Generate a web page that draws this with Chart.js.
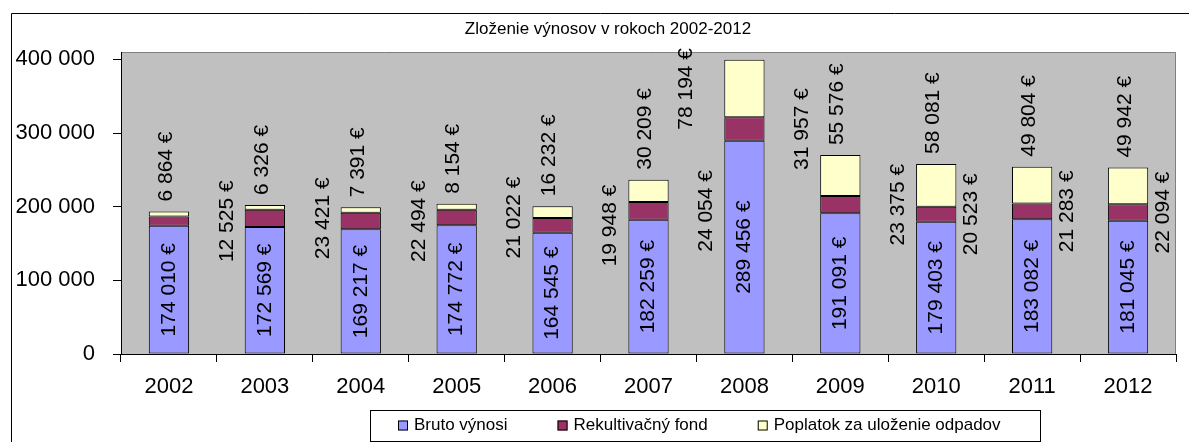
<!DOCTYPE html>
<html>
<head>
<meta charset="utf-8">
<script src="https://cdn.jsdelivr.net/npm/chart.js@4/dist/chart.umd.min.js"></script>
<style>
  html, body { margin: 0; padding: 0; background: #fff; }
  #wrap { width: 1189px; height: 442px; }
</style>
</head>
<body>
<div id="wrap"><canvas id="c" width="1189" height="442"></canvas></div>
<script>
const years = ['2002', '2003', '2004', '2005', '2006', '2007', '2008', '2009', '2010', '2011', '2012'];
const brutoVynosi = [174010, 172569, 169217, 174772, 164545, 182259, 289456, 191091, 179403, 183082, 181045];
const rekultivacnyFond = [12525, 23421, 22494, 21022, 19948, 24054, 31957, 23375, 20523, 21283, 22094];
const poplatok = [6864, 6326, 7391, 8154, 16232, 30209, 78194, 55576, 58081, 49804, 49942];
const seriesNames = ['Bruto výnosi', 'Rekultivačný fond', 'Poplatok za uloženie odpadov'];
const yTicks = [0, 100000, 200000, 300000, 400000];
const yMax = 410000;
const chartTitle = 'Zloženie výnosov v rokoch 2002-2012';

const colors = ['#9999FF', '#993366', '#FFFFCC'];
const FONT = '"Liberation Sans", Arial, sans-serif';

function fmt(v) {
  return String(v).replace(/\B(?=(\d{3})+(?!\d))/g, ' ');
}

// rotated text, reads bottom to top
function vText(ctx, text, x, y, align) {
  ctx.save();
  ctx.translate(x, y);
  ctx.rotate(-Math.PI / 2);
  ctx.textAlign = align;
  ctx.textBaseline = 'middle';
  ctx.fillText(text, 0, 0);
  ctx.restore();
}

const excelLook = {
  id: 'excelLook',
  beforeDraw(chart) {
    const ctx = chart.ctx;
    const a = chart.chartArea;
    ctx.save();
    ctx.fillStyle = '#fff';
    ctx.fillRect(0, 0, chart.width, chart.height);
    // outer frame (right and bottom fall outside the picture)
    ctx.strokeStyle = '#000';
    ctx.lineWidth = 1;
    ctx.beginPath();
    ctx.moveTo(11.5, chart.height);
    ctx.lineTo(11.5, 13.5);
    ctx.lineTo(chart.width, 13.5);
    ctx.stroke();
    // plot area
    ctx.fillStyle = '#C0C0C0';
    ctx.fillRect(a.left, a.top, a.right - a.left, a.bottom - a.top);
    ctx.strokeStyle = '#808080';
    ctx.beginPath();
    ctx.moveTo(a.left, a.top + 0.5);
    ctx.lineTo(a.right - 0.5, a.top + 0.5);
    ctx.lineTo(a.right - 0.5, a.bottom);
    ctx.stroke();
    // title
    ctx.fillStyle = '#000';
    ctx.font = '17px ' + FONT;
    ctx.textAlign = 'center';
    ctx.textBaseline = 'middle';
    ctx.fillText(chartTitle, 608, 29);
    ctx.restore();
  },
  afterDatasetsDraw(chart) {
    const ctx = chart.ctx;
    const a = chart.chartArea;
    ctx.save();
    ctx.fillStyle = '#000';
    ctx.font = '21px ' + FONT;
    const m0 = chart.getDatasetMeta(0).data;
    const m1 = chart.getDatasetMeta(1).data;
    const m2 = chart.getDatasetMeta(2).data;
    years.forEach((y, i) => {
      const b = m0[i];
      vText(ctx, fmt(brutoVynosi[i]) + ' €', b.x, (b.y + b.base) / 2, 'center');
      const r = m1[i];
      const shift = i >= 8 ? 35 : 58;
      vText(ctx, fmt(rekultivacnyFond[i]) + ' €', r.x + shift, (r.y + r.base) / 2, 'center');
      const p = m2[i];
      const txt = fmt(poplatok[i]) + ' €';
      const w = ctx.measureText(txt).width;
      if (p.y - 10 - w < a.top) {
        vText(ctx, txt, p.x - 58, a.top - 4, 'right');
      } else {
        vText(ctx, txt, p.x - 3, p.y - 10, 'left');
      }
    });
    ctx.restore();
  },
  afterDraw(chart) {
    const ctx = chart.ctx;
    ctx.save();
    const box = { left: 370, top: 410, right: 1040, bottom: 441 };
    ctx.strokeStyle = '#000';
    ctx.lineWidth = 1;
    ctx.strokeRect(box.left + 0.5, box.top + 0.5, box.right - box.left, box.bottom - box.top);
    ctx.font = '17px ' + FONT;
    ctx.textAlign = 'left';
    ctx.textBaseline = 'middle';
    const cy = (box.top + box.bottom) / 2;
    let x = 398;
    seriesNames.forEach((name, i) => {
      ctx.fillStyle = colors[i];
      ctx.fillRect(x, cy - 5, 10, 10);
      ctx.strokeRect(x + 0.5, cy - 4.5, 9, 9);
      ctx.fillStyle = '#000';
      ctx.fillText(name, x + 16, cy);
      x += 16 + ctx.measureText(name).width + 50;
    });
    ctx.restore();
  }
};

const datasets = [brutoVynosi, rekultivacnyFond, poplatok].map((d, i) => ({
  label: seriesNames[i],
  data: d,
  backgroundColor: colors[i],
  borderColor: '#000',
  borderWidth: 1,
  borderSkipped: false,
  barPercentage: 0.42,
  categoryPercentage: 1
}));

const chart = new Chart(document.getElementById('c'), {
  type: 'bar',
  data: { labels: years, datasets: datasets },
  options: {
    responsive: false,
    animation: false,
    layout: { padding: { top: 52, left: 12, right: 13, bottom: 0 } },
    plugins: {
      legend: { display: false },
      title: { display: false },
      tooltip: { enabled: false }
    },
    scales: {
      x: {
        stacked: true,
        grid: { offset: true, drawOnChartArea: false, tickLength: 8, color: '#000' },
        border: { color: '#000' },
        ticks: { color: '#000', font: { family: FONT, size: 22 }, padding: 12 },
        afterFit: s => { s.height = 88; }
      },
      y: {
        stacked: true,
        min: 0,
        max: yMax,
        afterBuildTicks: s => { s.ticks = yTicks.map(v => ({ value: v })); },
        grid: { drawOnChartArea: false, tickLength: 8, color: '#000' },
        border: { color: '#000' },
        ticks: { color: '#000', font: { family: FONT, size: 22 }, padding: 18, callback: v => fmt(v) },
        afterFit: s => { s.width = 109; }
      }
    }
  },
  plugins: [excelLook]
});
</script>
</body>
</html>
